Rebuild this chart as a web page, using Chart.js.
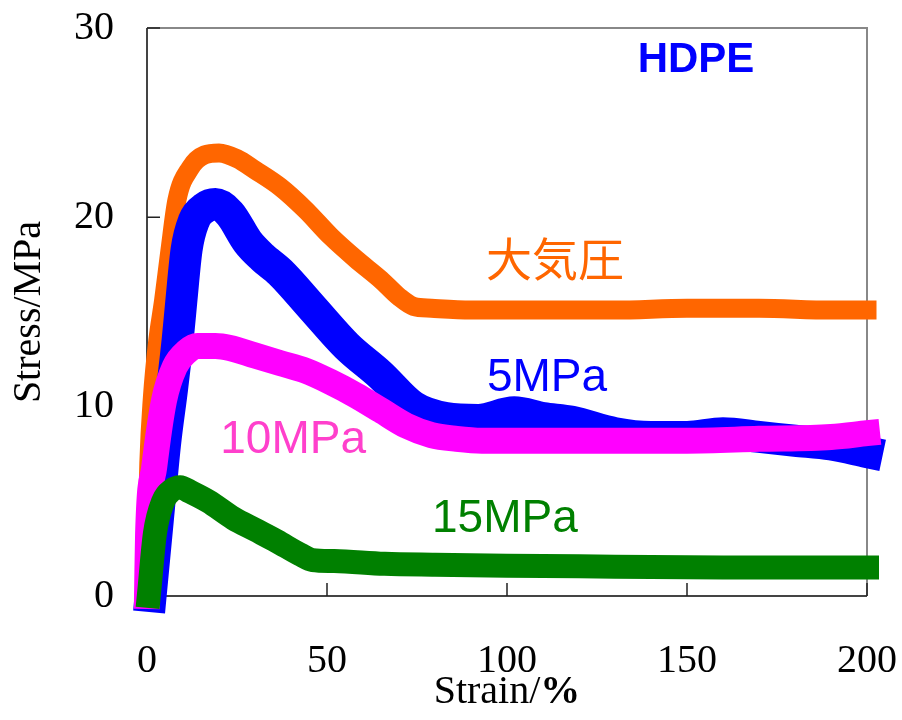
<!DOCTYPE html>
<html lang="ja">
<head>
<meta charset="UTF-8">
<title>HDPE Stress-Strain</title>
<script src="https://cdn.jsdelivr.net/npm/chart.js@4"></script>
<style>
  html, body { margin: 0; padding: 0; background: #fff; }
  #wrap { width: 902px; height: 720px; }
</style>
</head>
<body>
<div id="wrap"><canvas id="c"></canvas></div>
<script>
// strain (%) / stress (MPa)
const atmX = [0, 0.5, 1.5, 3, 4.6, 6.4, 8.3, 12, 16, 20, 25, 30, 37, 44, 51, 58, 65, 70, 74, 79, 90, 110, 130, 150, 170, 190, 200];
const atmY = [3, 7, 10.5, 13.5, 15.6, 18.3, 20.9, 22.6, 23.3, 23.4, 23.1, 22.5, 21.6, 20.4, 19.0, 17.8, 16.7, 15.8, 15.3, 15.2, 15.1, 15.1, 15.1, 15.2, 15.2, 15.1, 15.1];

const p5X = [1, 3, 5, 7, 8.5, 9.5, 11, 13, 16, 19, 23, 28, 32, 37, 46, 55.5, 64.7, 74, 83, 92, 102, 110, 118, 130, 140, 150, 160, 170, 180, 190, 200];
const p5Y = [0, 4, 8, 11, 13.5, 15.5, 18.3, 19.8, 20.5, 20.7, 20.2, 18.7, 17.9, 17.1, 15.2, 13.2, 11.7, 10.0, 9.4, 9.3, 9.7, 9.4, 9.2, 8.6, 8.4, 8.4, 8.6, 8.4, 8.2, 8.0, 7.6];

const p10X = [0, 0.3, 2, 4.7, 7.7, 11, 14, 19, 23, 30, 37, 44, 51, 58, 65, 72, 79, 86, 93, 110, 130, 150, 170, 190, 200];
const p10Y = [0, 3.3, 6.8, 10.3, 12.1, 12.9, 13.2, 13.2, 13.1, 12.7, 12.3, 11.9, 11.3, 10.6, 9.8, 9.0, 8.5, 8.3, 8.2, 8.2, 8.2, 8.2, 8.3, 8.4, 8.6];

const p15X = [0.5, 2.2, 4.5, 7, 9.2, 12, 17, 24, 30, 36, 42.5, 46, 52, 66, 80, 100, 130, 160, 200];
const p15Y = [0, 3.3, 5.0, 5.6, 5.75, 5.5, 5.0, 4.1, 3.5, 2.9, 2.2, 1.9, 1.85, 1.7, 1.65, 1.6, 1.55, 1.5, 1.5];

const xTicks = [0, 50, 100, 150, 200];
const yTicks = [0, 10, 20, 30];

const seriesNames = ['大気圧', '5MPa', '10MPa', '15MPa'];
const seriesColors = ['#FF6600', '#0000FF', '#FF00FF', '#008000'];

// text labels inside the plot, placed in data units
const notes = [
  { text: 'HDPE',  x: 152.5, y: 28.3, color: '#0000FF', font: 'bold 42px "Liberation Sans", Arial, sans-serif' },
  { text: '大気圧', x: 113.3, y: 17.8, color: '#FF6600', font: '46px "Noto Sans CJK JP", sans-serif' },
  { text: '5MPa',  x: 111.1, y: 11.5, color: '#0000FF', font: '46px "Liberation Sans", Arial, sans-serif' },
  { text: '10MPa', x: 40.6,  y: 8.2,  color: '#FF40CC', font: '46px "Liberation Sans", Arial, sans-serif' },
  { text: '15MPa', x: 99.4,  y: 4.07, color: '#008000', font: '46px "Liberation Sans", Arial, sans-serif' }
];

const serif = '"Liberation Serif", "Times New Roman", serif';

function pts(xs, ys) {
  return xs.map((x, i) => ({ x: x, y: ys[i] }));
}

// frame + inward tick marks, under the curves
const framePlugin = {
  id: 'frame',
  beforeDatasetsDraw(chart) {
    const { ctx, chartArea: a, scales } = chart;
    ctx.save();
    ctx.lineWidth = 2;
    ctx.strokeStyle = '#888';
    ctx.beginPath();
    ctx.moveTo(a.left, a.top);
    ctx.lineTo(a.right, a.top);
    ctx.lineTo(a.right, a.bottom);
    ctx.stroke();
    ctx.strokeStyle = '#444';
    ctx.beginPath();
    ctx.moveTo(a.left, a.top);
    ctx.lineTo(a.left, a.bottom);
    ctx.lineTo(a.right, a.bottom);
    ctx.stroke();
    ctx.lineWidth = 1.5;
    ctx.strokeStyle = '#222';
    ctx.beginPath();
    scales.x.ticks.forEach(t => {
      const px = scales.x.getPixelForValue(t.value);
      ctx.moveTo(px, a.bottom);
      ctx.lineTo(px, a.bottom - 13);
    });
    scales.y.ticks.forEach(t => {
      const py = scales.y.getPixelForValue(t.value);
      ctx.moveTo(a.left, py);
      ctx.lineTo(a.left + 13, py);
    });
    ctx.stroke();
    ctx.restore();
  },
  afterDraw(chart) {
    const { ctx, chartArea: a, scales } = chart;
    ctx.save();
    // in-plot labels
    notes.forEach(n => {
      ctx.font = n.font;
      ctx.fillStyle = n.color;
      ctx.textAlign = 'center';
      ctx.textBaseline = 'middle';
      ctx.fillText(n.text, scales.x.getPixelForValue(n.x), scales.y.getPixelForValue(n.y));
    });
    // x title: "Strain/" regular + "%" bold
    const reg = '40px ' + serif, bold = 'bold 40px ' + serif;
    ctx.font = reg;
    const w1 = ctx.measureText('Strain/').width;
    ctx.font = bold;
    const w2 = ctx.measureText('%').width;
    const x0 = (a.left + a.right) / 2 - (w1 + w2) / 2;
    const y0 = 703;
    ctx.textAlign = 'left';
    ctx.textBaseline = 'alphabetic';
    ctx.fillStyle = '#000';
    ctx.font = reg;
    ctx.fillText('Strain/', x0, y0);
    ctx.font = bold;
    ctx.fillText('%', x0 + w1, y0);
    ctx.restore();
  }
};

const lineWidths = [19, 32, 26, 24];
const dataX = [atmX, p5X, p10X, p15X];
const dataY = [atmY, p5Y, p10Y, p15Y];
const drawOrder = [4, 3, 2, 1];

new Chart(document.getElementById('c'), {
  type: 'scatter',
  data: {
    datasets: seriesNames.map((name, i) => ({
      label: name,
      data: pts(dataX[i], dataY[i]),
      showLine: true,
      borderColor: seriesColors[i],
      backgroundColor: seriesColors[i],
      borderWidth: lineWidths[i],
      borderCapStyle: 'square',
      borderJoinStyle: 'round',
      cubicInterpolationMode: 'monotone',
      pointRadius: 0,
      order: drawOrder[i],
      clip: false
    }))
  },
  options: {
    responsive: true,
    maintainAspectRatio: false,
    animation: false,
    layout: { padding: { top: 28, right: 35, left: 0, bottom: 0 } },
    plugins: { legend: { display: false }, tooltip: { enabled: false } },
    scales: {
      x: {
        type: 'linear',
        min: xTicks[0], max: xTicks[xTicks.length - 1],
        afterBuildTicks: s => { s.ticks = xTicks.map(v => ({ value: v })); },
        afterFit: s => { s.height = 124; s.paddingLeft = 0; s.paddingRight = 0; },
        grid: { display: false },
        border: { display: false },
        ticks: { color: '#000', padding: 33, maxRotation: 0, font: { family: serif, size: 40 } }
      },
      y: {
        type: 'linear',
        min: yTicks[0], max: yTicks[yTicks.length - 1],
        afterBuildTicks: s => { s.ticks = yTicks.map(v => ({ value: v })); },
        afterFit: s => { s.width = 147; s.paddingTop = 0; s.paddingBottom = 0; },
        grid: { display: false },
        border: { display: false },
        ticks: { color: '#000', padding: 25, font: { family: serif, size: 40 } },
        title: { display: true, text: 'Stress/MPa', color: '#000', padding: { top: 5, bottom: 0 }, font: { family: serif, size: 40 } }
      }
    }
  },
  plugins: [framePlugin]
});
</script>
</body>
</html>
